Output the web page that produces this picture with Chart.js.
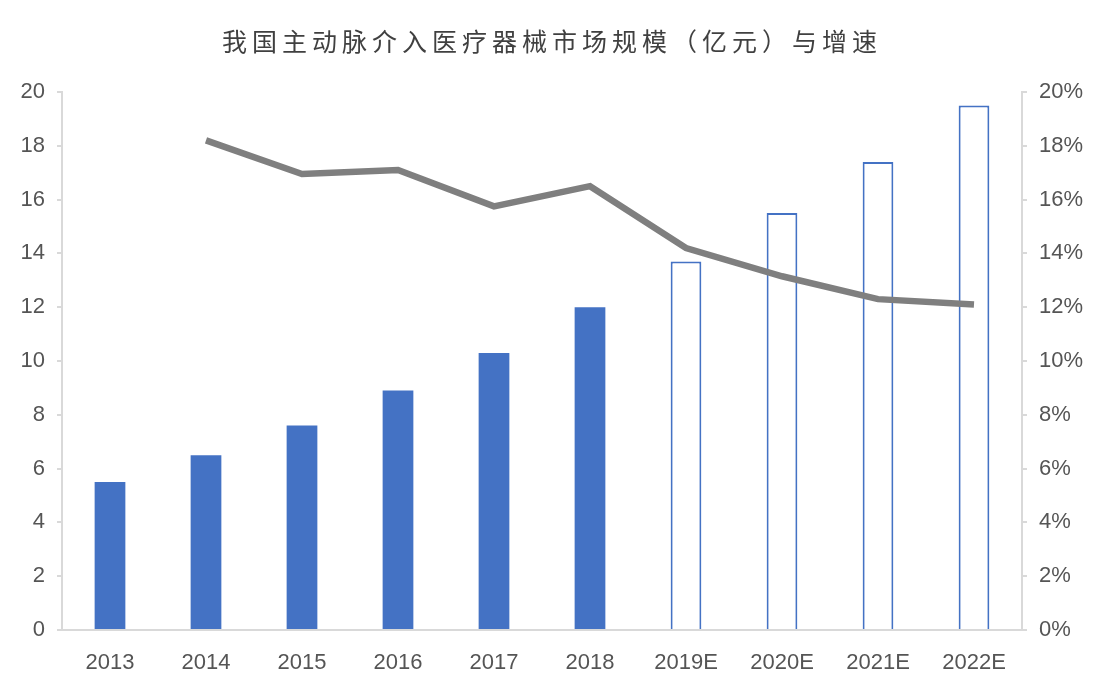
<!DOCTYPE html>
<html>
<head>
<meta charset="utf-8">
<script src="https://cdn.jsdelivr.net/npm/chart.js@4/dist/chart.umd.min.js"></script>
<style>
  html, body { margin: 0; padding: 0; background: #ffffff; }
  #chart { display: block; }
</style>
</head>
<body>
<canvas id="chart" width="1110" height="690"></canvas>
<script>
// market size (亿元) and growth rate (%)
const chartTitle = '我国主动脉介入医疗器械市场规模（亿元）与增速';
const years = ['2013', '2014', '2015', '2016', '2017', '2018', '2019E', '2020E', '2021E', '2022E'];
const marketSize = [5.5, 6.5, 7.6, 8.9, 10.3, 12.0, 13.7, 15.5, 17.4, 19.5];
const growthRate = [null, 18.2, 16.95, 17.1, 15.75, 16.5, 14.2, 13.15, 12.3, 12.1];
const isForecast = [false, false, false, false, false, false, true, true, true, true];

const blue = '#4472C4';
const axisGray = '#d9d9d9';
const textGray = '#555555';
const tickFont = { family: '"Liberation Sans", Arial, sans-serif', size: 22 };

// title drawn by hand so letter spacing can be applied
const spacedTitle = {
    id: 'spacedTitle',
    afterDraw(chart) {
        const c = chart.ctx;
        c.save();
        c.font = '25px "Noto Sans CJK SC", sans-serif';
        c.fillStyle = '#404040';
        c.textAlign = 'center';
        c.textBaseline = 'middle';
        c.letterSpacing = '5px';
        c.fillText(chartTitle, 552, 41);
        c.restore();
    }
};

const ctx = document.getElementById('chart');
new Chart(ctx, {
    data: {
        labels: years,
        datasets: [
            {
                type: 'line',
                label: '增速',
                data: growthRate,
                yAxisID: 'yRight',
                borderColor: '#7f7f7f',
                borderWidth: 6.5,
                pointRadius: 0,
                tension: 0,
                order: 0
            },
            {
                type: 'bar',
                label: '市场规模',
                data: marketSize,
                yAxisID: 'yLeft',
                backgroundColor: isForecast.map(f => f ? '#ffffff' : blue),
                borderColor: blue,
                borderWidth: isForecast.map(f => f ? 2 : 0),
                barPercentage: 0.32,
                categoryPercentage: 1.0,
                order: 1
            }
        ]
    },
    plugins: [spacedTitle],
    options: {
        responsive: false,
        animation: false,
        devicePixelRatio: 1,
        layout: { padding: { top: 92, left: 0, right: 0, bottom: 0 } },
        plugins: {
            legend: { display: false },
            tooltip: { enabled: false },
            title: { display: false }
        },
        scales: {
            x: {
                grid: { display: false },
                border: { display: true, color: axisGray, width: 2 },
                ticks: { color: textGray, font: tickFont, padding: 12, maxRotation: 0 },
                afterFit: function (scale) { scale.height = 60; }
            },
            yLeft: {
                position: 'left',
                min: 0,
                max: 20,
                ticks: { stepSize: 2, color: textGray, font: tickFont, padding: 12 },
                grid: { drawOnChartArea: false, drawTicks: true, tickLength: 5, color: axisGray, lineWidth: 2 },
                border: { display: true, color: axisGray, width: 2 },
                afterFit: function (scale) { scale.width = 62; }
            },
            yRight: {
                position: 'right',
                min: 0,
                max: 20,
                ticks: { stepSize: 2, color: textGray, font: tickFont, padding: 12, callback: v => v + '%' },
                grid: { drawOnChartArea: false, drawTicks: true, tickLength: 5, color: axisGray, lineWidth: 2 },
                border: { display: true, color: axisGray, width: 2 },
                afterFit: function (scale) { scale.width = 88; }
            }
        }
    }
});
</script>
</body>
</html>
